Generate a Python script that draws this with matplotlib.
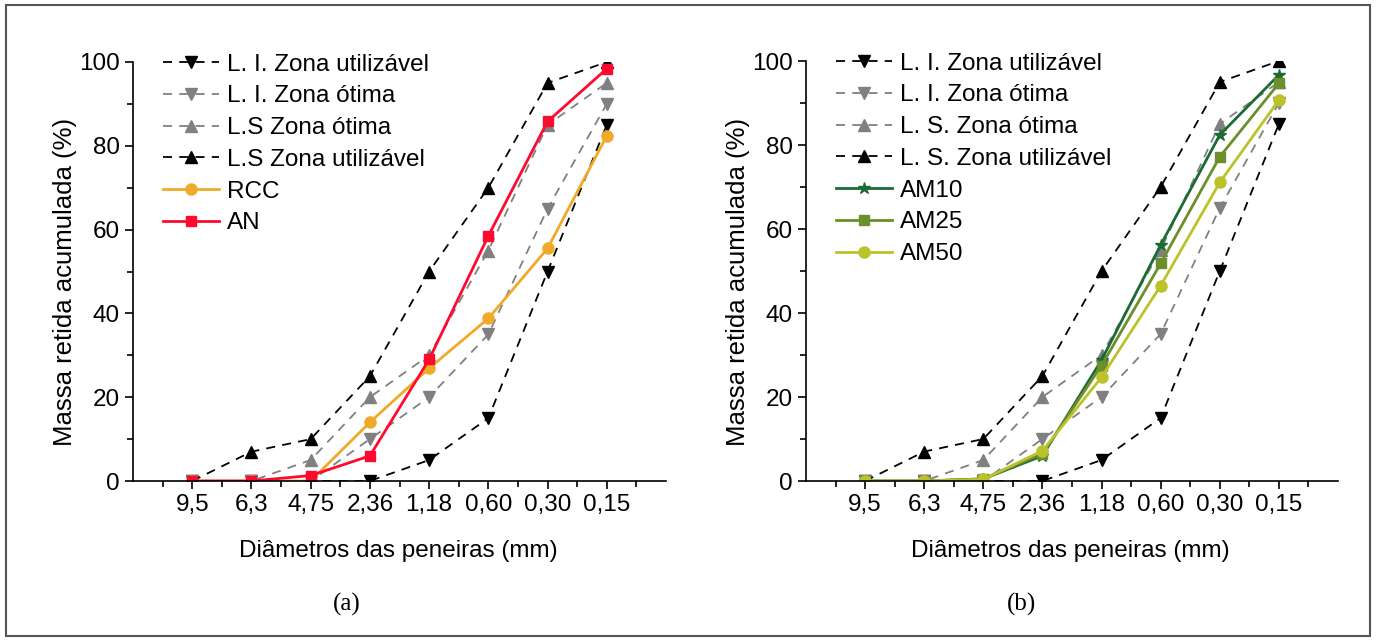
import matplotlib.pyplot as plt
from matplotlib.ticker import MultipleLocator
from matplotlib.patches import Rectangle

plt.rcParams['font.family'] = 'Liberation Sans'

# sieve sizes (mm)
sieves = ['9,5', '6,3', '4,75', '2,36', '1,18', '0,60', '0,30', '0,15']

# grading limits (NBR 7211)
li_util = [0, 0, 0, 0, 5, 15, 50, 85]
li_otima = [0, 0, 0, 10, 20, 35, 65, 90]
ls_otima = [0, 0, 5, 20, 30, 55, 85, 95]
ls_util = [0, 7, 10, 25, 50, 70, 95, 100]

# panel (a)
rcc = [0, 0, 0, 14.0, 26.9, 38.8, 55.5, 82.4]
an = [0, 0, 1.3, 6.0, 29.0, 58.5, 85.8, 98.4]

# panel (b)
am10 = [0, 0, 0.5, 6.0, 28.8, 56.2, 82.4, 96.7]
am25 = [0, 0, 0.5, 6.5, 27.5, 51.8, 77.2, 94.7]
am50 = [0, 0, 0.4, 7.2, 24.7, 46.5, 71.1, 90.7]

x = list(range(1, len(sieves) + 1))

fig = plt.figure(figsize=(13.76, 6.41), dpi=100)
ax1 = fig.add_axes([133 / 1376, 160 / 641, 533 / 1376, 419 / 641])
ax2 = fig.add_axes([806 / 1376, 160 / 641, 532 / 1376, 420 / 641])

# border around the whole figure
fig.patches.append(Rectangle((6 / 1376, 5 / 641), 1364 / 1376, 631 / 641,
                             transform=fig.transFigure, fill=False,
                             edgecolor='#555555', linewidth=1.5))

dash = (0, (5, 4))
ms = 8


def limits(ax, labels):
    ax.plot(x, li_util, color='black', linestyle=dash, lw=1.3, marker='v', ms=ms, label=labels[0])
    ax.plot(x, li_otima, color='#808080', linestyle=dash, lw=1.3, marker='v', ms=ms, label=labels[1])
    ax.plot(x, ls_otima, color='#808080', linestyle=dash, lw=1.3, marker='^', ms=ms, label=labels[2])
    ax.plot(x, ls_util, color='black', linestyle=dash, lw=1.3, marker='^', ms=ms, label=labels[3])


limits(ax1, ['L. I. Zona utilizável', 'L. I. Zona ótima', 'L.S Zona ótima', 'L.S Zona utilizável'])
ax1.plot(x, rcc, color='#F0AA2A', lw=2, marker='o', ms=8, label='RCC')
ax1.plot(x, an, color='#FF0A2E', lw=2, marker='s', ms=7, label='AN')

limits(ax2, ['L. I. Zona utilizável', 'L. I. Zona ótima', 'L. S. Zona ótima', 'L. S. Zona utilizável'])
ax2.plot(x, am10, color='#1C6A35', lw=2, marker='*', ms=9, label='AM10')
ax2.plot(x, am25, color='#6B8F2A', lw=2, marker='s', ms=7, label='AM25')
ax2.plot(x, am50, color='#BCC22A', lw=2, marker='o', ms=8, label='AM50')

for ax in [ax1, ax2]:
    ax.set_xlim(0, 9)
    ax.set_ylim(0, 100)
    ax.set_xticks(x)
    ax.set_xticklabels(sieves)
    ax.set_xticks([i + 0.5 for i in range(0, 9)], minor=True)
    ax.yaxis.set_major_locator(MultipleLocator(20))
    ax.yaxis.set_minor_locator(MultipleLocator(10))
    ax.spines['top'].set_visible(False)
    ax.spines['right'].set_visible(False)
    ax.spines['left'].set_linewidth(1.2)
    ax.spines['bottom'].set_linewidth(1.2)
    ax.tick_params(which='major', direction='out', length=6, width=1.2, labelsize=17.5)
    ax.tick_params(which='minor', direction='out', length=4, width=1.2)
    ax.set_xlabel('Diâmetros das peneiras (mm)', fontsize=17.5)
    ax.set_ylabel('Massa retida acumulada (%)', fontsize=18.5)
    ax.xaxis.set_label_coords(0.497, -0.14)
    ax.yaxis.set_label_coords(-0.105, 0.475)
    ax.legend(loc='upper left', bbox_to_anchor=(0.015, 1.072), frameon=False, fontsize=17.5,
              handlelength=2.3, handletextpad=0.35, labelspacing=0.4)

fig.text(347 / 1376, 1 - 604 / 641, '(a)', ha='center', va='center',
         fontsize=18, family='Liberation Serif')
fig.text(1022 / 1376, 1 - 604 / 641, '(b)', ha='center', va='center',
         fontsize=18, family='Liberation Serif')

fig.savefig('out.png', dpi=100)
